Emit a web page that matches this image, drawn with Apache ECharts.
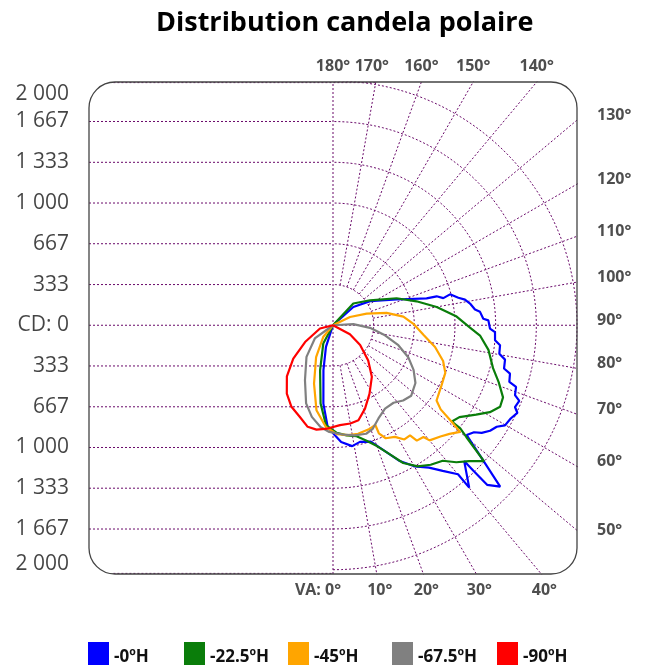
<!DOCTYPE html>
<html>
<head>
<meta charset="utf-8">
<script src="https://cdn.jsdelivr.net/npm/echarts@6/dist/echarts.min.js"></script>
<style>
  html, body { margin: 0; padding: 0; background: #fff; }
  #chart { width: 649px; height: 665px; }
</style>
</head>
<body>
<div id="chart"></div>
<script>
// C-planes
const planes = ["-0ºH", "-22.5ºH", "-45ºH", "-67.5ºH", "-90ºH"]
const colors = ["#0000ff", "#0a7d0a", "#ffa500", "#808080", "#ff0000"]
const legendLeft = [88, 184, 288, 392, 497]

// curves: [gamma angle in degrees (0 = down, 90 = right, 180 = up), intensity in cd]
const curve0 = [[132, 0], [132, 224], [123, 363], [112, 563], [106, 798], [105.6, 882], [103.8, 931], [104.8, 992], [102.4, 1052], [101, 1102], [99, 1137], [96.3, 1171], [95.2, 1210], [92.5, 1233], [91.8, 1274], [88.8, 1287], [87.6, 1329], [84.7, 1334], [83.2, 1379], [80.3, 1383], [78.7, 1438], [75.8, 1446], [74.7, 1504], [72.2, 1518], [71.4, 1583], [69, 1598], [67.9, 1648], [65.8, 1635], [64.6, 1673], [62.3, 1645], [59.8, 1631], [58.2, 1579], [56.1, 1551], [54.1, 1505], [52.8, 1451], [50.6, 1418], [48, 1656], [46, 1905], [44, 1818], [44, 1654], [44, 1548], [40, 1737], [40, 1594], [37, 1494], [34, 1407], [30, 1335], [26, 1235], [22, 1104], [18, 1003], [13, 981], [9, 1003], [4, 959], [1, 902], [-3, 834], [-7, 647], [-12, 377], [-18, 187], [-18, 0]]
const curve1 = [[137, 0], [137, 244], [124, 366], [113, 566], [106, 712], [100, 863], [94, 1016], [89, 1123], [86, 1208], [81, 1290], [75, 1358], [71, 1437], [67, 1514], [64, 1524], [61, 1470], [58, 1383], [54, 1281], [51, 1254], [51, 1342], [50, 1428], [48, 1665], [45, 1576], [42, 1511], [39, 1429], [35, 1396], [31, 1349], [27, 1267], [24, 1163], [20, 1054], [16, 982], [12, 930], [7, 909], [2, 883], [-4, 821], [-9, 650], [-16, 384], [-28, 170], [-28, 0]]
const curve2 = [[116, 0], [116, 155], [109, 292], [103, 451], [97, 581], [91, 659], [84, 745], [78, 855], [72, 949], [67, 1000], [61, 1017], [54, 1049], [52, 1120], [51, 1235], [50, 1360], [47, 1306], [44, 1268], [40, 1232], [39, 1178], [36, 1169], [35, 1101], [32, 1104], [29, 1046], [25, 1022], [23, 962], [23, 888], [19, 902], [13, 913], [8, 910], [2, 893], [-4, 836], [-11, 710], [-18, 503], [-28, 295], [-40, 123], [-40, 0]]
const curve3 = [[93, 0], [93, 167], [86, 304], [79, 434], [73, 560], [67, 670], [61, 755], [55, 825], [48, 863], [43, 843], [38, 806], [32, 805], [26, 850], [21, 909], [17, 930], [11, 920], [5, 899], [-2, 875], [-7, 840], [-13, 771], [-19, 677], [-27, 506], [-40, 338], [-54, 184], [-54, 0]]
const curve4 = [[-76, 0], [-76, 110], [-59, 267], [-50, 425], [-42, 565], [-34, 677], [-27, 750], [-20, 798], [-14, 858], [-9, 866], [-3, 848], [4, 821], [10, 818], [15, 806], [21, 732], [28, 637], [37, 529], [45, 408], [54, 275], [62, 157], [62, 0]]
const curves = [curve0, curve1, curve2, curve3, curve4]

// candela grid (left scale) and its labels
const cdTicks = [2000, 1667, 1333, 1000, 667, 333, 0, -333, -667, -1000, -1333, -1667, -2000]
const cdLabels = ["2 000", "1 667", "1 333", "1 000", "667", "333", "CD: 0", "333", "667", "1 000", "1 333", "1 667", "2 000"]
const arcRadii = [333.33, 666.67, 1000, 1333.33, 1666.67, 2000]

// vertical angles
const spokeAngles = [10, 20, 30, 40, 50, 60, 70, 80, 100, 110, 120, 130, 140, 150, 160, 170]
const bottomAngles = [0, 10, 20, 30, 40]
const rightAngles = [50, 60, 70, 80, 90, 100, 110, 120, 130]
const topAngles = [140, 150, 160, 170, 180]

// frame in cd units
const X_MIN = -2000, X_MAX = 2000, Y_MIN = -2035, Y_MAX = 1990
const G = { left: 89, right: 72, top: 82, bottom: 91 }
const W = 649 - G.left - G.right, H = 665 - G.top - G.bottom
const cx = G.left + (0 - X_MIN) / (X_MAX - X_MIN) * W
const cy = G.top + (Y_MAX - 0) / (Y_MAX - Y_MIN) * H
const R = 2000 / (X_MAX - X_MIN) * W

const purple = "#6a0a6a"
const rad = d => d * Math.PI / 180
const pt = (a, r) => [r * Math.sin(rad(a)), -r * Math.cos(rad(a))]

function gridLine(data) {
  return {
    type: "line", data: data, symbol: "none", silent: true, animation: false, z: 1,
    lineStyle: { color: purple, width: 1, type: [2, 2] },
  }
}

const series = []
cdTicks.forEach(v => {
  if (v === 0) return
  if (v === 2000) series.push(gridLine([[X_MIN + 200, Y_MAX - 5], [360, Y_MAX - 5]]))
  else if (v === -2000) series.push(gridLine([[X_MIN + 200, Y_MIN + 5], [0, Y_MIN + 5]]))
  else series.push(gridLine([[X_MIN, v], [0, v]]))
})
series.push(gridLine([[X_MIN, 0], [X_MAX, 0]]))
series.push(gridLine([[0, Y_MIN], [0, Y_MAX]]))
arcRadii.forEach(r => {
  const pts = []
  for (let a = 0; a <= 180; a += 2) pts.push(pt(a, r))
  series.push(gridLine(pts))
})
spokeAngles.forEach(a => series.push(gridLine([pt(a, arcRadii[0]), pt(a, 5000)])))

// where a spoke meets the frame
function edge(a) {
  const dx = Math.sin(rad(a)), dy = -Math.cos(rad(a))
  let t = 1e9
  if (dx > 1e-9) t = Math.min(t, X_MAX / dx)
  if (dy > 1e-9) t = Math.min(t, Y_MAX / dy)
  if (dy < -1e-9) t = Math.min(t, Y_MIN / dy)
  return [t * dx, t * dy]
}

const angleFont = { fontFamily: "Open Sans", fontWeight: "bold", fontSize: 16, color: "#222" }
const angleData = []
bottomAngles.forEach(a => angleData.push({
  value: edge(a),
  label: Object.assign({ position: "bottom", distance: 8, formatter: a === 0 ? "VA: 0°" : a + "°", offset: [a === 0 ? -15 : 3, 0] }, angleFont),
}))
rightAngles.forEach(a => angleData.push({
  value: edge(a),
  label: Object.assign({ position: "right", distance: 20, formatter: a + "°", offset: [0, a === 50 ? 0 : -5] }, angleFont),
}))
topAngles.forEach(a => angleData.push({
  value: edge(a),
  label: Object.assign({ position: "top", distance: 8, formatter: a + "°", offset: [a === 170 ? -4 : 0, 0] }, angleFont),
}))
series.push({
  type: "scatter", data: angleData, symbolSize: 0, silent: true, animation: false,
  label: { show: true },
})

series.push({
  type: "scatter", silent: true, animation: false, symbolSize: 0,
  data: cdTicks.map((v, i) => ({
    value: [X_MIN, Math.max(Y_MIN, Math.min(Y_MAX, v))],
    label: { formatter: cdLabels[i], offset: [0, i === 0 ? 12 : (i === cdTicks.length - 1 ? -6 : 0)] },
  })),
  label: { show: true, position: "left", distance: 20, fontFamily: "Open Sans", fontSize: 21, color: "#151515" },
})

curves.forEach((c, i) => series.push({
  type: "line", name: planes[i], coordinateSystem: "polar",
  data: c.map(p => [p[1], p[0]]),
  symbol: "none", animation: false, z: 5,
  lineStyle: { color: colors[i], width: 2.2 },
  itemStyle: { color: colors[i] },
}))

const chart = echarts.init(document.getElementById("chart"))
chart.setOption({
  backgroundColor: "#fff",
  title: {
    text: "Distribution candela polaire", left: 151, top: 5,
    textStyle: { fontFamily: "Open Sans", fontWeight: "bold", fontSize: 27, color: "#000" },
  },
  grid: { left: G.left, right: G.right, top: G.top, bottom: G.bottom },
  xAxis: { type: "value", min: X_MIN, max: X_MAX, show: false },
  yAxis: { type: "value", min: Y_MIN, max: Y_MAX, show: false },
  polar: { center: [cx, cy], radius: R },
  angleAxis: { type: "value", min: -180, max: 180, startAngle: 90, clockwise: false, show: false },
  radiusAxis: { type: "value", min: 0, max: 2000, show: false },
  legend: planes.map((p, i) => ({
    data: [p], top: 642, left: legendLeft[i], padding: 0, icon: "rect", itemWidth: 21, itemHeight: 30, itemGap: 0,
    textStyle: { fontFamily: "Open Sans", fontWeight: "bold", fontSize: 17, color: "#111" },
  })),
  graphic: [{
    type: "rect", z: 10, silent: true,
    shape: { x: G.left, y: G.top, width: W, height: H, r: 26 },
    style: { fill: "none", stroke: "#444", lineWidth: 1.3 },
  }],
  series: series,
})
</script>
</body>
</html>
